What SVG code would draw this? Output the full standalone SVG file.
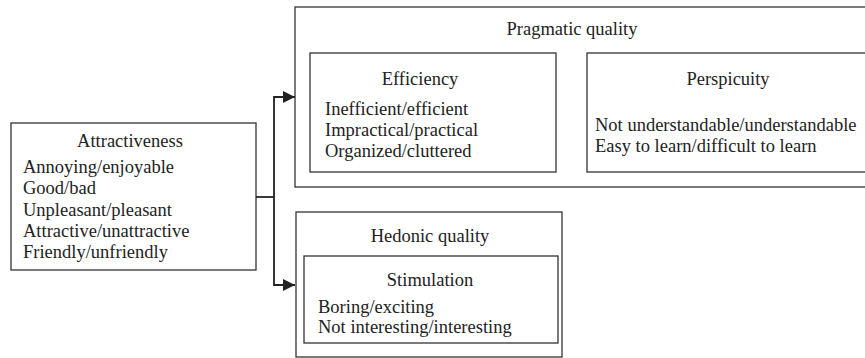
<svg xmlns="http://www.w3.org/2000/svg" width="865" height="358" viewBox="0 0 865 358">
<defs>
<style>
.box{fill:#fff;stroke:#333;stroke-width:1.3}
.t{font-family:"Liberation Serif","Times New Roman",serif;font-size:18.5px;fill:#222}
.c{text-anchor:middle}
.edge{fill:none;stroke:#222;stroke-width:1.8}
</style>
<marker id="arr" viewBox="0 0 12 12" refX="12" refY="6" markerWidth="12" markerHeight="12" markerUnits="userSpaceOnUse" orient="auto">
<path d="M0,0 L12,6 L0,12 Z" fill="#222"/>
</marker>
</defs>
<rect width="865" height="358" fill="#fff"/>
<g id="attractiveness">
<rect class="box" x="11" y="123" width="245" height="147"/>
<text class="t c" x="130" y="147">Attractiveness</text>
<text class="t" x="23" y="173">Annoying/enjoyable</text>
<text class="t" x="23" y="194">Good/bad</text>
<text class="t" x="23" y="215.5">Unpleasant/pleasant</text>
<text class="t" x="23" y="237">Attractive/unattractive</text>
<text class="t" x="23" y="258">Friendly/unfriendly</text>
</g>
<g id="pragmatic">
<rect class="box" x="295" y="7" width="580" height="180"/>
<text class="t c" x="572" y="34.5">Pragmatic quality</text>
</g>
<g id="efficiency">
<rect class="box" x="310" y="53" width="246" height="119"/>
<text class="t c" x="420" y="85">Efficiency</text>
<text class="t" x="325" y="115">Inefficient/efficient</text>
<text class="t" x="325" y="136">Impractical/practical</text>
<text class="t" x="325" y="157">Organized/cluttered</text>
</g>
<g id="perspicuity">
<rect class="box" x="587" y="53" width="290" height="119"/>
<text class="t c" x="728" y="85">Perspicuity</text>
<text class="t" x="595" y="131">Not understandable/understandable</text>
<text class="t" x="595" y="152">Easy to learn/difficult to learn</text>
</g>
<g id="hedonic">
<rect class="box" x="296" y="212" width="266" height="145"/>
<text class="t c" x="430" y="242">Hedonic quality</text>
</g>
<g id="stimulation">
<rect class="box" x="304" y="256" width="254" height="87"/>
<text class="t c" x="430" y="286">Stimulation</text>
<text class="t" x="318" y="313">Boring/exciting</text>
<text class="t" x="318" y="333">Not interesting/interesting</text>
</g>
<g id="connectors">
<path class="edge" d="M256,197 H274"/>
<path class="edge" d="M274,197 V97 H295" marker-end="url(#arr)"/>
<path class="edge" d="M274,197 V285 H295" marker-end="url(#arr)"/>
</g>
</svg>
